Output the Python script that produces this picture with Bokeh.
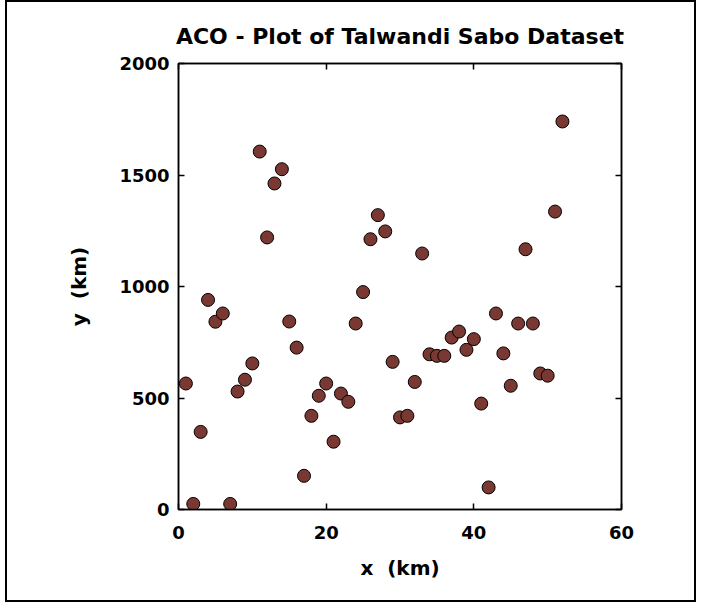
from bokeh.plotting import figure
from bokeh.models import FixedTicker, LinearAxis, Range1d
from bokeh.embed import file_html
from bokeh.resources import INLINE

# Data (x in km, y in km)
x_km = list(range(1, 53))
y_km = [565, 25, 348, 940, 842, 879, 25, 529, 582, 655,
        1605, 1220, 1462, 1526, 843, 726, 151, 420, 510, 565,
        304, 520, 483, 834, 975, 1212, 1320, 1247, 662, 413,
        420, 572, 1148, 696, 689, 689, 771, 798, 716, 764,
        475, 99, 879, 700, 555, 834, 1167, 834, 610, 600,
        1336, 1740]
x_ticks = [0, 20, 40, 60]
y_ticks = [0, 500, 1000, 1500, 2000]

FONT = "DejaVu Sans"

p = figure(width=691, height=602, output_backend="svg", toolbar_location=None,
           x_range=Range1d(0, 60), y_range=Range1d(0, 2000),
           min_border_left=171, min_border_right=77,
           min_border_top=61, min_border_bottom=95,
           title="ACO - Plot of Talwandi Sabo Dataset")
p.styles = {"border": "2px solid black", "margin-left": "5px"}

p.title.align = "center"
p.title.text_font = FONT
p.title.text_font_size = "22px"
p.title.text_font_style = "bold"
p.title.text_color = "black"
p.title.standoff = 30

p.xgrid.visible = False
p.ygrid.visible = False
p.outline_line_color = "black"
p.outline_line_width = 1.5
p.background_fill_color = "white"
p.border_fill_color = "white"

def style_axis(ax, ticks, labels=True):
    ax.ticker = FixedTicker(ticks=ticks)
    ax.major_tick_in = 6
    ax.major_tick_out = 0
    ax.minor_tick_in = 0
    ax.minor_tick_out = 0
    ax.axis_line_color = "black"
    ax.axis_line_width = 1.5
    ax.major_tick_line_color = "black"
    ax.major_tick_line_width = 1.5
    ax.major_label_text_font = FONT
    ax.major_label_text_font_style = "bold"
    ax.major_label_text_font_size = "18px"
    ax.major_label_text_color = "black"
    ax.axis_label_text_font = FONT
    ax.axis_label_text_font_style = "bold"
    ax.axis_label_text_font_size = "20px"
    ax.axis_label_text_color = "black"
    if not labels:
        ax.major_label_overrides = {t: "" for t in ticks}
        ax.major_label_standoff = 0

style_axis(p.xaxis[0], x_ticks)
style_axis(p.yaxis[0], y_ticks)
p.xaxis[0].axis_label = "x \u00a0(km)"
p.yaxis[0].axis_label = "y \u00a0(km)"
p.xaxis[0].major_label_standoff = 16
p.yaxis[0].major_label_standoff = 9
p.xaxis[0].axis_label_standoff = 14
p.yaxis[0].axis_label_standoff = 25

top_ax = LinearAxis()
style_axis(top_ax, x_ticks, labels=False)
right_ax = LinearAxis()
style_axis(right_ax, y_ticks, labels=False)
p.add_layout(top_ax, "above")
p.add_layout(right_ax, "right")

p.scatter(x_km, y_km, marker="circle", size=13,
          fill_color="#7a3832", line_color="black", line_width=1)

open("out.html", "w").write(file_html(p, INLINE))
